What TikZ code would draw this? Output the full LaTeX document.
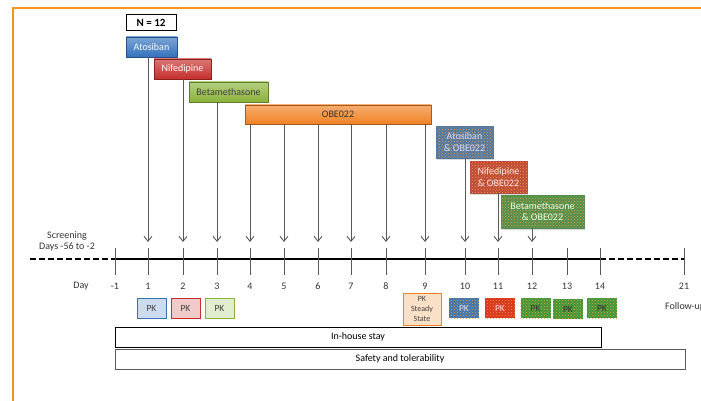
\documentclass[tikz,border=0pt]{standalone}
\usepackage{fontspec}
\setmainfont{Carlito}
\usetikzlibrary{arrows.meta,shadows,patterns}
\definecolor{frameorange}{HTML}{F7941D}
\definecolor{atosblue}{HTML}{3473BD}
\definecolor{nifered}{HTML}{C52E2B}
\definecolor{betagreen}{HTML}{8AB33B}
\definecolor{obeorange}{HTML}{F08224}
\definecolor{dotorange}{HTML}{F0A040}
\definecolor{mixblue}{HTML}{3A76B4}
\definecolor{mixred}{HTML}{D8331E}
\definecolor{mixgreen}{HTML}{3C983A}
\tikzset{
  drug/.style={draw=#1!70!black, top color=#1!65!white, bottom color=#1,
    inner sep=0pt, minimum height=20pt,
    drop shadow={shadow xshift=1pt,shadow yshift=-1.5pt,opacity=0.35},
    font=\fontsize{10}{11}\selectfont},
  mixbox/.style={preaction={fill=#1}, pattern=crosshatch dots,
    pattern color=dotorange, draw=#1!60!gray, inner sep=0pt, align=center,
    drop shadow={shadow xshift=1pt,shadow yshift=-1.5pt,opacity=0.3},
    font=\fontsize{10}{11.5}\selectfont},
  pkbox/.style={draw=#1, fill=#1!25!white, minimum width=29pt,
    minimum height=20pt, inner sep=0pt, text=black!75,
    drop shadow={shadow xshift=1pt,shadow yshift=-1pt,opacity=0.25},
    font=\fontsize{9.5}{10}\selectfont},
  pkmix/.style={preaction={fill=#1}, pattern=crosshatch dots,
    pattern color=dotorange, minimum width=30pt, minimum height=20pt,
    inner sep=0pt, font=\fontsize{9.5}{10}\selectfont},
  stay/.style={draw=#1, line width=1pt, inner sep=0pt, minimum height=20pt,
    font=\fontsize{10}{11}\selectfont},
  daylbl/.style={font=\fontsize{10}{11}\selectfont, text=black!80},
  daytick/.style={gray!70!black, line width=1pt},
  arr/.style={gray!70!black, line width=0.9pt,
    -{Straight Barb[length=5pt,width=8pt]}}
}
\begin{document}
\begin{tikzpicture}[x=1pt,y=-1pt]
  \useasboundingbox (0,0) rectangle (701,401);
  \draw[frameorange, line width=1.2pt] (13,401) -- (13,8) -- (701,8);

  % time line
  \draw[line width=1.6pt, dash pattern=on 6pt off 3pt] (30,259) -- (115,259);
  \draw[line width=1.6pt] (115,259) -- (600,259);
  \draw[line width=1.6pt, dash pattern=on 6pt off 3pt] (600,259) -- (684,259);
  \foreach \d/\x in {-1/115,1/148,2/183,3/217,4/250,5/284,6/318,7/351,8/386,
                     9/425,10/465,11/498,12/532,13/567,14/600,21/684}{
    \coordinate (a\d) at (\x,242);
    \draw[daytick] (\x,248) -- (\x,275);
    \node[daylbl] (n\d) at (\x,286) {\d};
  }
  \node[daylbl] (day) at (81,286) {Day};
  \node[daylbl, align=center] (scr) at (67,241) {Screening\\Days -56 to -2};

  % treatments
  \node[draw, line width=1pt, minimum width=50pt, minimum height=16pt,
        inner sep=0pt, font=\fontsize{11}{12}\selectfont\bfseries] (nn) at (151,23) {N = 12};
  \node[drug=atosblue, text=white, minimum width=51pt] (atos) at (151.5,47) {Atosiban};
  \node[drug=nifered, text=white, minimum width=57pt] (nife) at (182.5,69) {Nifedipine};
  \node[drug=betagreen, text=black!75, minimum width=79pt] (beta) at (228.5,92) {Betamethasone};
  \node[drug=obeorange, text=black!80, minimum width=186pt, minimum height=19pt] (obe) at (338,114.5) {OBE022};
  \node[mixbox=mixblue, text=white!85!blue, minimum width=57pt, minimum height=32pt] (atosobe) at (464.5,142) {Atosiban\\\& OBE022};
  \node[mixbox=mixred, text=white!90!red, minimum width=57pt, minimum height=32pt] (nifeobe) at (498.5,177) {Nifedipine\\\& OBE022};
  \node[mixbox=mixgreen, text=white!90!green, minimum width=83pt, minimum height=33pt] (betaobe) at (542.5,211.5) {Betamethasone\\\& OBE022};

  \draw[arr] (atos.south -| a1) -- (a1);
  \draw[arr] (nife.south -| a2) -- (a2);
  \draw[arr] (beta.south -| a3) -- (a3);
  \foreach \d in {4,...,9}
    \draw[arr] (obe.south -| a\d) -- (a\d);
  \draw[arr] (atosobe.south -| a10) -- (a10);
  \draw[arr] (nifeobe.south -| a11) -- (a11);
  \draw[arr] (betaobe.south -| a12) -- (a12);

  % PK sampling
  \node[pkbox=atosblue] (pk1) at (151.5,308) {PK};
  \node[pkbox=nifered] (pk2) at (185.5,308) {PK};
  \node[pkbox=betagreen] (pk3) at (219.5,308) {PK};
  \node[pkbox=obeorange, minimum width=38pt, minimum height=32pt, align=center,
        font=\fontsize{8}{10}\selectfont] (pkss) at (422,309) {PK\\Steady\\State};
  \node[pkmix=mixblue, text=white!85!blue] (pk10) at (464,308) {PK};
  \node[pkmix=mixred, text=white!85!red] (pk11) at (500,308) {PK};
  \node[pkmix=mixgreen, text=black!80] (pk12) at (535.5,308) {PK};
  \node[pkmix=mixgreen, text=black!80] (pk13) at (568,309) {PK};
  \node[pkmix=mixgreen, text=black!80] (pk14) at (602,308) {PK};
  \node[daylbl, anchor=west, inner sep=0pt] (fu) at (665,307) {Follow-up};

  \node[stay=black, minimum width=486pt] (house) at (358,337) {In-house stay};
  \node[stay=black!65, minimum width=570pt] (safety) at (400,359) {Safety and tolerability};
\end{tikzpicture}
\end{document}
